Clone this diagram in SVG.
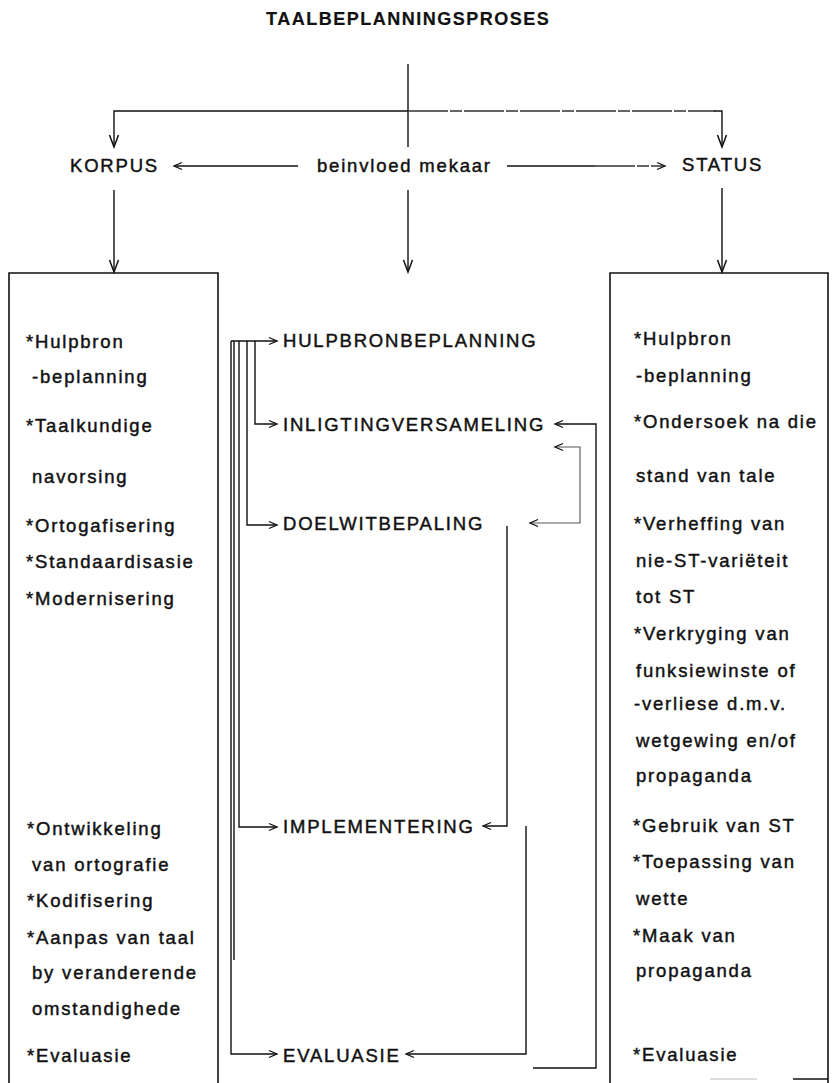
<svg xmlns="http://www.w3.org/2000/svg" width="832" height="1083" viewBox="0 0 832 1083">
<style>
  text { font-family: "Liberation Sans", Arial, sans-serif; font-size: 18.5px; fill: #111; letter-spacing: 1.8px; stroke: #111; stroke-width: 0.45px; }
  .title { font-weight: bold; font-size: 18px; letter-spacing: 1.5px; stroke-width: 0.2px; }
  .ln { fill: none; stroke: #111; stroke-width: 1.4; }
  .dl { fill: none; stroke: #333; stroke-width: 1.3; stroke-dasharray: 40 2 12 2; }
  .lt { fill: none; stroke: #555; stroke-width: 1.1; }
  .box { fill: none; stroke: #111; stroke-width: 1.6; }
</style>
<defs>
  <marker id="s" markerUnits="userSpaceOnUse" viewBox="-10 -5 12 10" refX="0" refY="0" markerWidth="12" markerHeight="10" orient="auto">
    <path d="M-8,-3.5 L0,0 L-8,3.5" fill="none" stroke="#111" stroke-width="1.3"/>
  </marker>
  <marker id="b" markerUnits="userSpaceOnUse" viewBox="-14 -6 16 12" refX="0" refY="0" markerWidth="16" markerHeight="12" orient="auto">
    <path d="M-12,-4.5 L0,0 L-12,4.5" fill="none" stroke="#111" stroke-width="1.5"/>
  </marker>
</defs>
<rect width="832" height="1083" fill="#fff"/>

<g id="title"><text class="title" x="266" y="25">TAALBEPLANNINGSPROSES</text></g>

<g id="connectors">
  <path class="ln" d="M408,64 V147"/>
  <path class="ln" d="M408,111 H114 V147" marker-end="url(#b)"/>
  <path class="dl" d="M408,111 H715"/>
  <path class="ln" d="M714,111 H722 V147" marker-end="url(#b)"/>
  <path class="ln" d="M298,166 H174" marker-end="url(#s)"/>
  <path class="ln" d="M507,166 H595"/>
  <path class="dl" d="M595,166 H665" marker-end="url(#s)"/>
  <path class="ln" d="M114,190 V272" marker-end="url(#b)"/>
  <path class="ln" d="M408,190 V272" marker-end="url(#b)"/>
  <path class="ln" d="M722,188 V272" marker-end="url(#b)"/>
  <!-- left bundle -->
  <path class="ln" d="M231,341 H277" marker-end="url(#s)"/>
  <path class="ln" d="M255,341 V424 H277" marker-end="url(#s)"/>
  <path class="ln" d="M247,341 V525 H277" marker-end="url(#s)"/>
  <path class="ln" d="M239,341 V827 H277" marker-end="url(#s)"/>
  <path class="ln" d="M234,341 V960"/>
  <path class="ln" d="M231,341 V1054 H277" marker-end="url(#s)"/>
  <!-- right feedback -->
  <path class="ln" d="M533,1068 H596 V424 H555" marker-end="url(#s)"/>
  <path class="lt" d="M580,485 V447 H555" marker-end="url(#s)"/>
  <path class="lt" d="M580,485 V523 H530" marker-end="url(#s)"/>
  <path class="ln" d="M507,526 V826 H483" marker-end="url(#s)"/>
  <path class="ln" d="M526,826 V1054 H406" marker-end="url(#s)"/>
</g>

<g id="korpus"><text x="70" y="172">KORPUS</text></g>
<g id="beinvloed"><text x="317" y="172">beinvloed mekaar</text></g>
<g id="status"><text x="682" y="171">STATUS</text></g>

<g id="korpus-box">
  <path class="box" d="M9,1083 V273 H218 V1083"/>
  <text>
    <tspan x="26" y="348">*Hulpbron</tspan>
    <tspan x="32" y="383">-beplanning</tspan>
    <tspan x="26" y="432">*Taalkundige</tspan>
    <tspan x="32" y="483">navorsing</tspan>
    <tspan x="26" y="532">*Ortogafisering</tspan>
    <tspan x="26" y="568">*Standaardisasie</tspan>
    <tspan x="26" y="605">*Modernisering</tspan>
    <tspan x="27" y="835">*Ontwikkeling</tspan>
    <tspan x="32" y="871">van ortografie</tspan>
    <tspan x="27" y="907">*Kodifisering</tspan>
    <tspan x="27" y="944">*Aanpas van taal</tspan>
    <tspan x="32" y="979">by veranderende</tspan>
    <tspan x="32" y="1015">omstandighede</tspan>
    <tspan x="27" y="1062">*Evaluasie</tspan>
  </text>
</g>

<g id="status-box">
  <path class="box" d="M610,1083 V273 H828 V1083"/>
  <path class="box" d="M793,1079 H828"/>
  <path d="M710,1079 H757" stroke="#bbb" stroke-width="1" fill="none"/>
  <text>
    <tspan x="634" y="345">*Hulpbron</tspan>
    <tspan x="636" y="382">-beplanning</tspan>
    <tspan x="634" y="428">*Ondersoek na die</tspan>
    <tspan x="636" y="482">stand van tale</tspan>
    <tspan x="634" y="530">*Verheffing van</tspan>
    <tspan x="636" y="567">nie-ST-variëteit</tspan>
    <tspan x="636" y="603">tot ST</tspan>
    <tspan x="634" y="640">*Verkryging van</tspan>
    <tspan x="636" y="677">funksiewinste of</tspan>
    <tspan x="634" y="710">-verliese d.m.v.</tspan>
    <tspan x="636" y="747">wetgewing en/of</tspan>
    <tspan x="636" y="782">propaganda</tspan>
    <tspan x="633" y="832">*Gebruik van ST</tspan>
    <tspan x="633" y="868">*Toepassing van</tspan>
    <tspan x="636" y="905">wette</tspan>
    <tspan x="633" y="942">*Maak van</tspan>
    <tspan x="636" y="977">propaganda</tspan>
    <tspan x="633" y="1061">*Evaluasie</tspan>
  </text>
</g>

<g id="hulpbronbeplanning"><text x="283" y="347">HULPBRONBEPLANNING</text></g>
<g id="inligtingversameling"><text x="283" y="431">INLIGTINGVERSAMELING</text></g>
<g id="doelwitbepaling"><text x="283" y="530">DOELWITBEPALING</text></g>
<g id="implementering"><text x="283" y="833">IMPLEMENTERING</text></g>
<g id="evaluasie"><text x="283" y="1062">EVALUASIE</text></g>
</svg>
